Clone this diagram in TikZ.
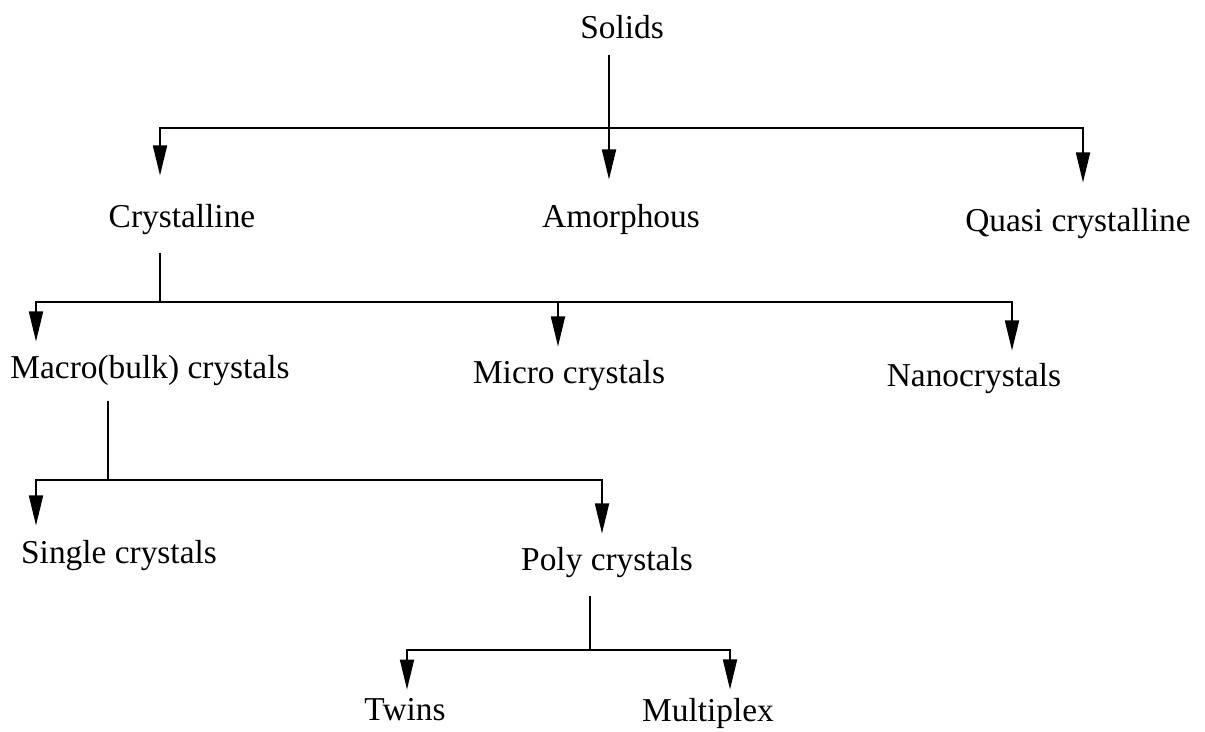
\documentclass[tikz,border=0pt]{standalone}
\usepackage{fontspec}
\setmainfont{Liberation Serif}
\usetikzlibrary{arrows.meta}

\begin{document}
\begin{tikzpicture}[
    >={Triangle[length=0.6cm,width=0.28cm]},
    classe/.style={
        inner sep=0pt,
        anchor=base,
        font=\fontsize{19}{23}\selectfont
    },
    trait/.style={
        line width=1pt
    },
    fleche/.style={
        ->,
        line width=1pt
    },
    branche/.style={
        <->,
        line width=1pt
    }
]
\useasboundingbox (0,0) rectangle (24.1,-14.64);

\node[classe] (solids) at (12.44,-0.78) {Solids};

\node[classe] (crystalline) at (3.64,-4.56) {Crystalline};
\node[classe] (amorphous) at (12.42,-4.56) {Amorphous};
\node[classe] (quasi) at (21.56,-4.64) {Quasi crystalline};

\node[classe] (macro) at (3.0,-7.56) {Macro(bulk) crystals};
\node[classe] (micro) at (11.38,-7.66) {Micro crystals};
\node[classe] (nano) at (19.48,-7.72) {Nanocrystals};

\node[classe] (single) at (2.38,-11.26) {Single crystals};
\node[classe] (poly) at (12.14,-11.4) {Poly crystals};

\node[classe] (twins) at (8.1,-14.4) {Twins};
\node[classe] (multiplex) at (14.16,-14.42) {Multiplex};

% Solids
\coordinate (j1) at (12.18,-2.56);
\coordinate (g1) at (3.2,-2.56);
\coordinate (d1) at (21.66,-2.56);
\draw[fleche, shorten <=0.3cm, shorten >=0.5cm] (solids.south -| j1) -- (j1 |- amorphous.north);
\draw[branche, shorten <=0.58cm, shorten >=0.52cm] (g1 |- crystalline.north) -- (g1) -- (d1) -- (d1 |- quasi.north);

% Crystalline
\coordinate (j2) at (3.2,-6.04);
\coordinate (g2) at (0.72,-6.04);
\coordinate (m2) at (11.16,-6.04);
\coordinate (d2) at (20.24,-6.04);
\draw[trait, shorten <=0.34cm] (crystalline.south -| j2) -- (j2);
\draw[branche, shorten <=0.26cm, shorten >=0.24cm] (g2 |- macro.north) -- (g2) -- (d2) -- (d2 |- nano.north);
\draw[fleche, shorten >=0.26cm] (m2) -- (m2 |- micro.north);

% Macro(bulk)
\coordinate (j3) at (2.16,-9.6);
\coordinate (g3) at (0.72,-9.6);
\coordinate (d3) at (12.04,-9.6);
\draw[trait, shorten <=0.3cm] (macro.south -| j3) -- (j3);
\draw[branche, shorten <=0.28cm, shorten >=0.26cm] (g3 |- single.north) -- (g3) -- (d3) -- (d3 |- poly.north);

% Poly
\coordinate (j4) at (11.8,-13.0);
\coordinate (g4) at (8.14,-13.0);
\coordinate (d4) at (14.6,-13.0);
\draw[trait, shorten <=0.36cm] (poly.south -| j4) -- (j4);
\draw[branche, shorten <=0.16cm, shorten >=0.16cm] (g4 |- twins.north) -- (g4) -- (d4) -- (d4 |- multiplex.north);

\end{tikzpicture}
\end{document}
